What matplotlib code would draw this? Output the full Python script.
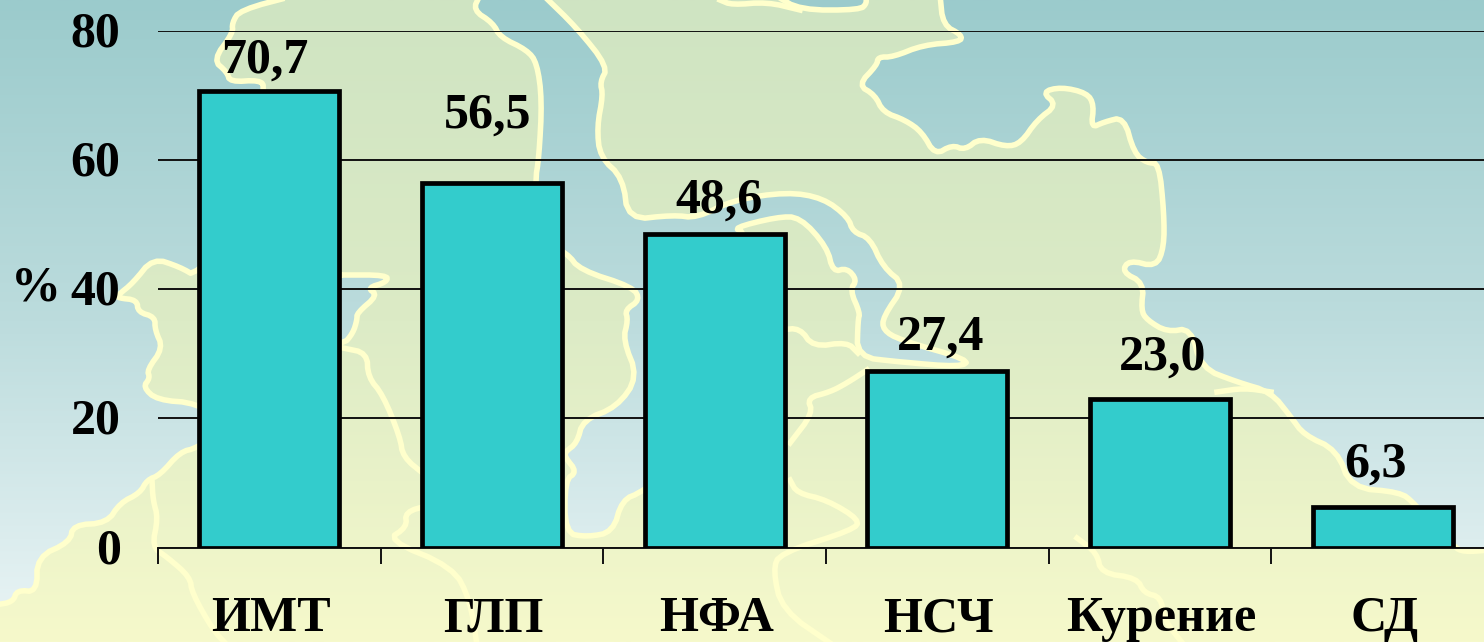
import numpy as np
import matplotlib
matplotlib.use('Agg')
import matplotlib.pyplot as plt
from matplotlib.colors import LinearSegmentedColormap
from matplotlib.path import Path
from matplotlib.transforms import ScaledTranslation

# chart values
categories = ['ИМТ', 'ГЛП', 'НФА', 'НСЧ', 'Курение', 'СД']
values = [70.7, 56.5, 48.6, 27.4, 23.0, 6.3]
value_labels = ['70,7', '56,5', '48,6', '27,4', '23,0', '6,3']
yticks = [0, 20, 40, 60, 80]

# label offsets from the bar top centre, in pixels
label_dx = [-5, -4, 4, 3, 3, -7]
label_dy = [18, 55, 21, 21, 29, 30]

# background map, in image pixels: open coast lines, closed off screen by the corners
coast_left = [(297, -5), (240, 10), (232, 23), (233, 33), (213, 60), (227, 72), (230, 82), (260, 80),
              (265, 88), (250, 200), (197, 277), (180, 267), (153, 258), (133, 283), (118, 295),
              (118, 298), (137, 300), (138, 312), (155, 317), (155, 330), (163, 348), (147, 370),
              (150, 378), (143, 387), (157, 400), (197, 403), (230, 425), (197, 448), (180, 452),
              (160, 475), (147, 480), (140, 493), (120, 503), (107, 523), (73, 525), (70, 542),
              (37, 557), (37, 592), (17, 590), (13, 602), (-5, 605)]
coast_right = [(940, -5), (943, 25), (962, 35), (960, 42), (923, 45), (893, 57), (878, 57), (877, 65),
               (858, 85), (875, 95), (883, 112), (905, 120), (922, 132), (935, 155), (952, 145),
               (965, 150), (980, 138), (1006, 147), (1021, 143), (1037, 120), (1057, 105), (1042, 92),
               (1061, 87), (1087, 93), (1094, 105), (1091, 128), (1104, 122), (1124, 117), (1134, 153),
               (1147, 163), (1159, 163), (1164, 213), (1164, 247), (1156, 267), (1129, 260), (1122, 272),
               (1144, 283), (1141, 310), (1147, 320), (1167, 332), (1191, 328), (1201, 368), (1237, 382),
               (1271, 392), (1291, 417), (1304, 435), (1337, 450), (1351, 488), (1400, 492), (1414, 503),
               (1454, 547), (1464, 552), (1490, 550)]
coast_centre = [(480, -5), (473, 10), (493, 23), (500, 37), (527, 50), (537, 63), (542, 100), (539, 157),
                (535, 182), (540, 240), (567, 253), (580, 270), (633, 287), (640, 300), (625, 310),
                (628, 320), (623, 340), (638, 377), (617, 407), (583, 420), (577, 443), (565, 452),
                (565, 457), (577, 472), (565, 480), (565, 533), (587, 537), (613, 532), (622, 500),
                (642, 492), (700, 450), (760, 300), (745, 232), (733, 228), (777, 217), (800, 217),
                (827, 247), (833, 272), (847, 268), (857, 280), (850, 290), (860, 313), (858, 320),
                (857, 357), (900, 362), (960, 367), (970, 360), (900, 340), (883, 330), (883, 317),
                (905, 285), (883, 267), (870, 238), (853, 232), (848, 217), (823, 198), (787, 192),
                (733, 200), (697, 218), (673, 215), (628, 220), (623, 178), (600, 157), (597, 127),
                (603, 95), (600, 82), (608, 67), (577, 28), (543, -5)]
coast_inlet = [(340, 275), (387, 275), (387, 282), (367, 288), (378, 295), (357, 313), (357, 320),
               (353, 333), (343, 345), (300, 340), (300, 280), (340, 275)]
coast_lake = [(775, -5), (800, 10), (860, 10), (867, 3), (865, -5)]
coasts = [coast_left, coast_right, coast_centre, coast_inlet, coast_lake]
offscreen_corners = [[(-5, -5)], [(1490, -5)], [], [], []]

borders = [
    [(152, 480), (153, 500), (158, 518), (152, 547), (167, 557), (190, 577), (192, 593), (213, 630), (227, 645)],
    [(343, 348), (367, 353), (368, 377), (383, 395), (400, 437), (403, 457), (425, 475)],
    [(430, 505), (405, 512), (407, 527), (387, 540), (453, 567), (470, 600), (477, 645)],
    [(720, 0), (732, 5), (767, 2), (800, 10)],
    [(780, 330), (800, 328), (813, 347), (847, 342), (858, 353)],
    [(867, 370), (847, 383), (830, 392), (807, 398), (813, 413), (790, 443)],
    [(790, 480), (797, 493), (827, 500), (860, 520), (853, 530), (780, 553), (773, 570), (782, 610), (833, 645)],
    [(1077, 538), (1097, 553), (1101, 573), (1137, 578), (1144, 593), (1161, 597), (1164, 620), (1184, 645)],
    [(1217, 392), (1244, 388), (1271, 392)],
]


def smooth(points, rounds=2):
    # corner cutting, only for the map outlines
    pts = np.array(points, dtype=float)
    for _ in range(rounds):
        cut = np.empty(((len(pts) - 1) * 2, 2))
        cut[0::2] = 0.75 * pts[:-1] + 0.25 * pts[1:]
        cut[1::2] = 0.25 * pts[:-1] + 0.75 * pts[1:]
        pts = np.vstack([pts[0], cut, pts[-1]])
    return pts


plt.rcParams['font.family'] = ['Liberation Serif', 'DejaVu Serif']
plt.rcParams['font.weight'] = 'bold'

fig = plt.figure(figsize=(14.84, 6.42), dpi=100)

# background
bg = fig.add_axes([0, 0, 1, 1], zorder=0)
bg.set_axis_off()
grad = np.linspace(0, 1, 256).reshape(-1, 1)
land_cmap = LinearSegmentedColormap.from_list('land', ['#cfe4c2', '#dcebc6', '#f6f9cb'])
water_cmap = LinearSegmentedColormap.from_list('water', ['#9bcbcc', '#bcdcdd', '#ebf5f6'])
bg.imshow(grad, cmap=land_cmap, extent=[0, 1484, 642, 0], aspect='auto')
water_im = bg.imshow(grad, cmap=water_cmap, extent=[0, 1484, 642, 0], aspect='auto')
smoothed = [smooth(c) for c in coasts]
outlines = []
for s, corners in zip(smoothed, offscreen_corners):
    pts = np.vstack([s] + ([np.array(corners, dtype=float)] if corners else []) + [s[:1]])
    outlines.append(Path(pts, closed=True))
water_im.set_clip_path(Path.make_compound_path(*outlines), transform=bg.transData)
for s in smoothed:
    bg.plot(s[:, 0], s[:, 1], color='#ffffcc', lw=4)
for b in borders:
    s = smooth(b)
    bg.plot(s[:, 0], s[:, 1], color='#ffffcc', lw=4)
bg.set_xlim(0, 1484)
bg.set_ylim(642, 0)

# chart, the last category runs past the right edge of the picture
W, H = 1484, 642
ax = fig.add_axes([158 / W, (H - 547.5) / H, 1336 / W, 516.5 / H], zorder=1)
ax.patch.set_alpha(0)
x = np.arange(len(categories))
bars = ax.bar(x, values, width=0.63, color='#33cccc', edgecolor='black', linewidth=3.4, zorder=3)
ax.set_xlim(-0.5, 5.5)
ax.set_ylim(0, 80)
ax.set_yticks(yticks)
ax.yaxis.grid(True, color='#111111', linewidth=1.4, zorder=1)
ax.set_axisbelow(True)
ax.tick_params(axis='y', length=0, pad=27, labelsize=36)
up = ScaledTranslation(0, 2 / 100, fig.dpi_scale_trans)
for lab in ax.get_yticklabels():
    lab.set_transform(lab.get_transform() + up)
ax.set_xticks(np.arange(len(categories) + 1) - 0.5)
ax.set_xticklabels([])
ax.tick_params(axis='x', which='major', length=11.5, width=1.4, color='#111111')
ax.set_xticks(x, minor=True)
ax.set_xticklabels(categories, minor=True, fontsize=36)
ax.tick_params(axis='x', which='minor', length=0, pad=35)
shift = ScaledTranslation(1.5 / 100, 0, fig.dpi_scale_trans)
for lab in ax.get_xticklabels(minor=True):
    lab.set_transform(lab.get_transform() + shift)
for side in ['top', 'right', 'left']:
    ax.spines[side].set_visible(False)
ax.spines['bottom'].set_linewidth(1.4)
ax.spines['bottom'].set_color('#111111')

for i, rect in enumerate(bars):
    ax.annotate(value_labels[i], (rect.get_x() + rect.get_width() / 2, values[i]),
                xytext=(label_dx[i] * 0.72, label_dy[i] * 0.72), textcoords='offset points',
                ha='center', va='baseline', fontsize=36, zorder=4)

fig.text(11 / W, (H - 300) / H, '%', fontsize=36, ha='left', va='baseline')

fig.savefig('out.png', dpi=100)
